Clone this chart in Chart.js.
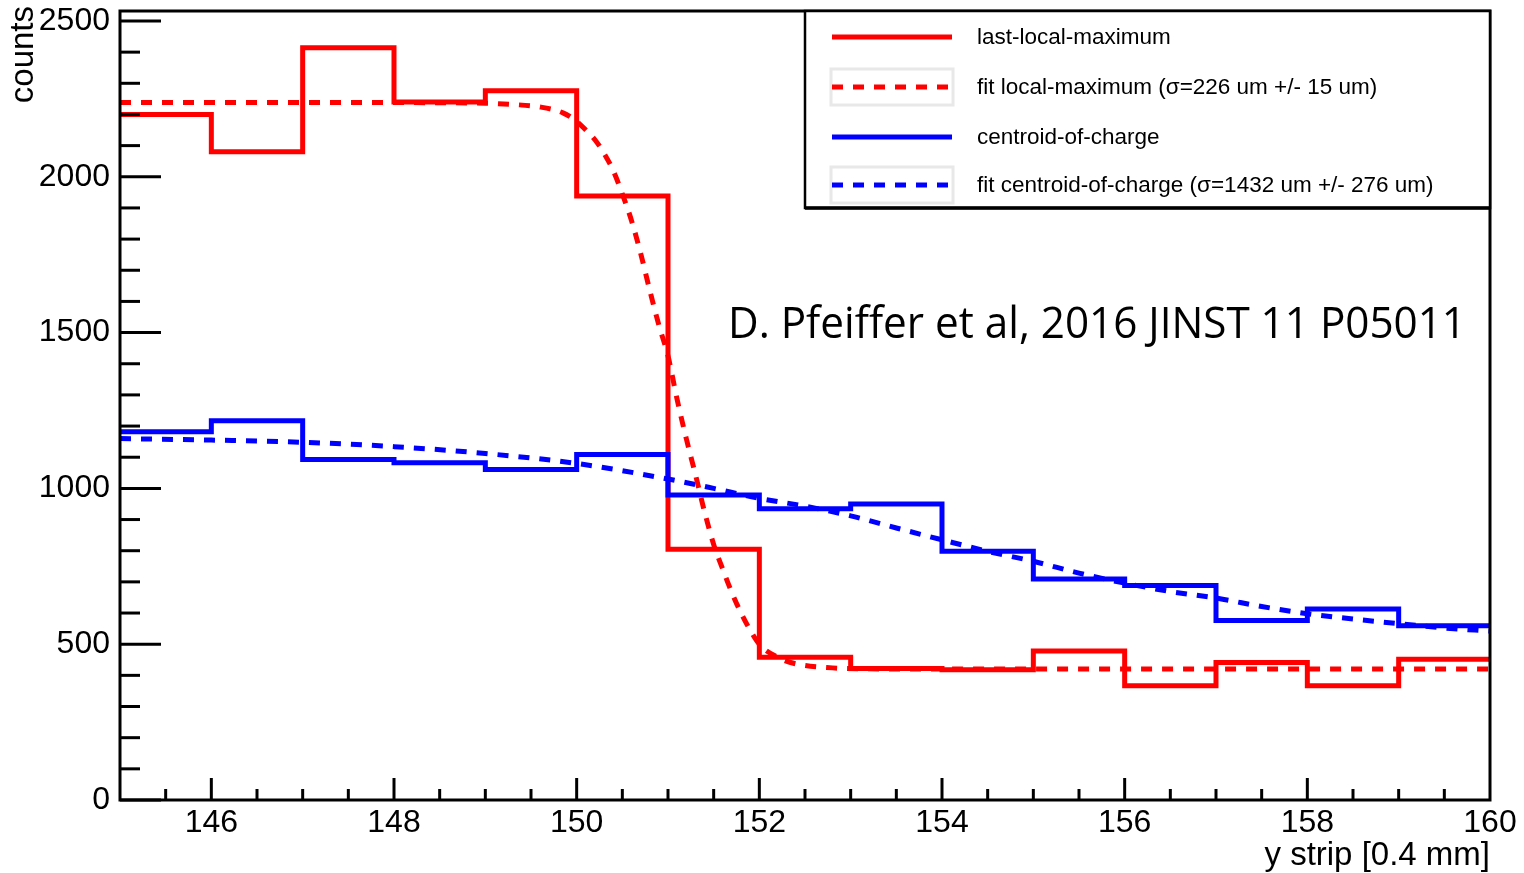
<!DOCTYPE html>
<html>
<head>
<meta charset="utf-8">
<script src="https://cdn.jsdelivr.net/npm/chart.js@4.4.1/dist/chart.umd.min.js"></script>
<style>
html,body{margin:0;padding:0;background:#fff;}
#wrap{width:1524px;height:873px;position:relative;}
</style>
</head>
<body>
<div id="wrap"><canvas id="c" width="1524" height="873"></canvas></div>
<script>
// ---- data ----
const binEdges = [145,146,147,148,149,150,151,152,153,154,155,156,157,158,159,160];
const lastLocalMaximum = [2200,2080,2414,2240,2276,1938,805,458,422,418,478,367,441,367,452];
const centroidOfCharge = [1182,1217,1093,1082,1061,1109,979,935,950,798,709,688,576,613,559];

const fitLocalX = [145,146,147,148,149,149.3,149.6,149.85,150,150.1,150.2,150.3,150.4,150.5,150.6,150.7,150.8,150.9,151,151.1,151.2,151.3,151.4,151.5,151.6,151.7,151.8,151.9,152,152.2,152.4,152.8,153.2,154,155,156,157,158,159,160];
const fitLocalY = [2238,2238,2238,2238,2236,2232,2224,2205,2178,2150,2119,2075,2020,1945,1860,1755,1636,1524,1425,1285,1160,1045,925,820,740,665,600,545,500,458,437,424,421,420,420,420,420,420,420,420];

const fitCentroidX = [145,146,147,148,149,150,151,151.5,152,152.5,153,153.5,154,154.5,155,155.5,156,156.5,157,157.5,158,158.5,159,159.5,160];
const fitCentroidY = [1160,1155,1148,1134,1112,1080,1030,1000,968,943,912,873,835,798,766,728,696,669,648,621,598,581,566,552,542];

const xTickLabels = [146,148,150,152,154,156,158,160];
const yTickLabels = [0,500,1000,1500,2000,2500];

const seriesNames = [
  'last-local-maximum',
  'fit local-maximum (\u03c3=226 um +/- 15 um)',
  'centroid-of-charge',
  'fit centroid-of-charge (\u03c3=1432 um +/- 276 um)'
];
const annotationText = 'D. Pfeiffer et al, 2016 JINST 11 P05011';

// ---- helpers ----
function histPoints(edges, vals){
  const pts = vals.map((v,i)=>({x:edges[i], y:v}));
  pts.push({x:edges[edges.length-1], y:vals[vals.length-1]});
  return pts;
}
function curvePoints(xs, ys){ return xs.map((x,i)=>({x:x, y:ys[i]})); }

const RED = '#ff0000', BLUE = '#0000ff';
const FONT = '"Liberation Sans", Arial, Helvetica, sans-serif';

const datasets = [
  {label:seriesNames[0], data:histPoints(binEdges,lastLocalMaximum), borderColor:RED, borderWidth:5, stepped:'before', pointRadius:0, fill:false, order:3},
  {label:seriesNames[1], data:curvePoints(fitLocalX,fitLocalY), borderColor:RED, borderWidth:5, borderDash:[11,10], cubicInterpolationMode:'monotone', pointRadius:0, fill:false, order:0},
  {label:seriesNames[2], data:histPoints(binEdges,centroidOfCharge), borderColor:BLUE, borderWidth:5, stepped:'before', pointRadius:0, fill:false, order:2},
  {label:seriesNames[3], data:curvePoints(fitCentroidX,fitCentroidY), borderColor:BLUE, borderWidth:5, borderDash:[11,10], cubicInterpolationMode:'monotone', pointRadius:0, fill:false, order:1}
];

const decorPlugin = {
  id:'decor',
  afterDraw(chart){
    const ctx = chart.ctx, a = chart.chartArea, xs = chart.scales.x, ys = chart.scales.y;
    ctx.save();
    ctx.strokeStyle = '#000';
    ctx.lineWidth = 3;
    ctx.lineCap = 'butt';
    // y ticks (inward)
    for (let v = 0; v <= 2500; v += 100){
      const py = ys.getPixelForValue(v);
      const len = (v % 500 === 0) ? 41 : 20;
      ctx.beginPath(); ctx.moveTo(a.left, py); ctx.lineTo(a.left + len, py); ctx.stroke();
    }
    // x ticks (inward)
    for (let v = 145.5; v < 160; v += 0.5){
      const px = xs.getPixelForValue(v);
      const len = (Math.abs(v % 2) < 1e-9) ? 22 : 11;
      ctx.beginPath(); ctx.moveTo(px, a.bottom); ctx.lineTo(px, a.bottom - len); ctx.stroke();
    }
    // frame
    ctx.lineWidth = 3;
    ctx.strokeRect(a.left, a.top, a.right - a.left, a.bottom - a.top);

    // legend
    const L = a.right - 685, T = a.top, R = a.right, B = a.top + 197;
    ctx.fillStyle = '#fff';
    ctx.fillRect(L, T, R - L, B - T);
    ctx.lineWidth = 2.5;
    ctx.strokeStyle = '#000';
    ctx.strokeRect(L, T, R - L, B - T);
    ctx.lineWidth = 3.5;
    ctx.beginPath(); ctx.moveTo(L, B); ctx.lineTo(R, B); ctx.stroke();
    const rowY = [T + 26, T + 76, T + 126, T + 174];
    ctx.font = '22.5px ' + FONT;
    ctx.textBaseline = 'middle';
    ctx.textAlign = 'left';
    chart.data.datasets.forEach((ds, i) => {
      const y = rowY[i];
      if (ds.borderDash){
        ctx.strokeStyle = '#e8e8e8'; ctx.lineWidth = 3; ctx.setLineDash([]);
        ctx.strokeRect(L + 26, y - 18, 122, 36);
      }
      ctx.strokeStyle = ds.borderColor;
      ctx.lineWidth = 5;
      ctx.setLineDash(ds.borderDash || []);
      ctx.beginPath(); ctx.moveTo(L + 27, y); ctx.lineTo(L + 147, y); ctx.stroke();
      ctx.setLineDash([]);
      ctx.fillStyle = '#000';
      ctx.fillText(ds.label, L + 172, y + 1);
    });

    // annotation
    ctx.fillStyle = '#000';
    ctx.font = '44px "Open Sans", "Noto Sans", sans-serif';
    ctx.textAlign = 'left';
    ctx.textBaseline = 'alphabetic';
    ctx.fillText(annotationText, 728, 338, 738);

    // axis titles
    ctx.font = '33px ' + FONT;
    ctx.textAlign = 'right';
    ctx.textBaseline = 'alphabetic';
    ctx.fillText('y strip [0.4 mm]', a.right, 865);
    ctx.save();
    ctx.translate(33, 6);
    ctx.rotate(-Math.PI / 2);
    ctx.textAlign = 'right';
    ctx.fillText('counts', 0, 0);
    ctx.restore();
    ctx.restore();
  }
};

new Chart(document.getElementById('c'), {
  type:'line',
  data:{datasets:datasets},
  options:{
    responsive:false,
    animation:false,
    devicePixelRatio:1,
    layout:{padding:{left:0, right:34, top:11, bottom:0}},
    plugins:{legend:{display:false}, tooltip:{enabled:false}},
    scales:{
      x:{
        type:'linear', min:145, max:160,
        grid:{display:false, drawTicks:false},
        border:{display:false},
        afterBuildTicks:(s)=>{ s.ticks = xTickLabels.map(v=>({value:v})); },
        afterFit:(s)=>{ s.height = 73; s.paddingLeft = 0; s.paddingRight = 0; },
        ticks:{font:{family:FONT, size:32}, color:'#000', padding:4, maxRotation:0, autoSkip:false,
               callback:(v)=>String(v)}
      },
      y:{
        type:'linear', min:0, max:2532,
        grid:{display:false, drawTicks:false},
        border:{display:false},
        afterBuildTicks:(s)=>{ s.ticks = yTickLabels.map(v=>({value:v})); },
        afterFit:(s)=>{ s.width = 120; s.paddingTop = 0; s.paddingBottom = 0; },
        ticks:{font:{family:FONT, size:32}, color:'#000', padding:10, autoSkip:false,
               callback:(v)=>String(v)}
      }
    }
  },
  plugins:[decorPlugin]
});
</script>
</body>
</html>
